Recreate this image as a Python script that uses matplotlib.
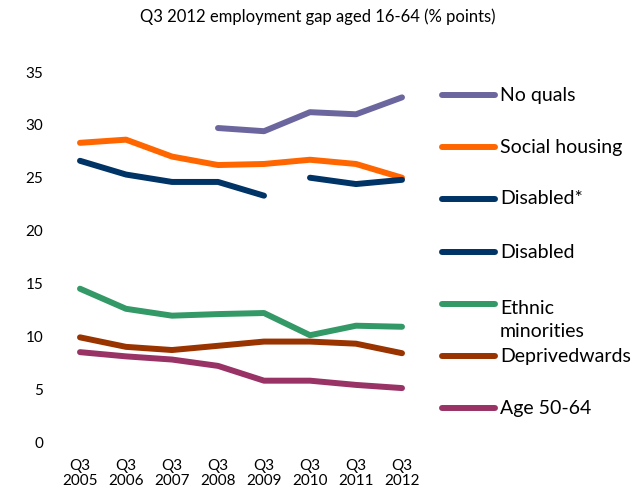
import matplotlib.pyplot as plt
from matplotlib.lines import Line2D
import numpy as np

plt.rcParams['font.family'] = ['Lato', 'DejaVu Sans']

# Data
quarters = ['Q3\n2005', 'Q3\n2006', 'Q3\n2007', 'Q3\n2008',
            'Q3\n2009', 'Q3\n2010', 'Q3\n2011', 'Q3\n2012']
nan = np.nan
no_quals = [nan, nan, nan, 29.7, 29.4, 31.2, 31.0, 32.6]
social_housing = [28.3, 28.6, 27.0, 26.2, 26.3, 26.7, 26.3, 25.0]
disabled_star = [26.6, 25.3, 24.6, 24.6, 23.3, nan, nan, nan]
disabled = [nan, nan, nan, nan, nan, 25.0, 24.4, 24.8]
ethnic = [14.5, 12.6, 11.95, 12.1, 12.2, 10.1, 11.0, 10.9]
deprived = [9.9, 9.0, 8.7, 9.1, 9.5, 9.5, 9.3, 8.4]
age_50_64 = [8.5, 8.1, 7.8, 7.2, 5.8, 5.8, 5.4, 5.1]

series = [
    ('No quals', no_quals, '#6B679E'),
    ('Social housing', social_housing, '#FF6600'),
    ('Disabled*', disabled_star, '#003366'),
    ('Disabled', disabled, '#003366'),
    ('Ethnic\nminorities', ethnic, '#339966'),
    ('Deprivedwards', deprived, '#993300'),
    ('Age 50-64', age_50_64, '#993366'),
]

W, H = 641, 490
fig = plt.figure(figsize=(W / 100, H / 100), dpi=100)
# axes: x from 57 to 425 px, y from 72 (35) to 442 (0)
ax = fig.add_axes([57 / W, 1 - 442 / H, (425 - 57) / W, (442 - 72) / H])

x = np.arange(len(quarters))
for name, vals, col in series:
    ax.plot(x, vals, color=col, lw=4.3, solid_capstyle='round',
            solid_joinstyle='round')

ax.set_xlim(-0.5, len(quarters) - 0.5)
ax.set_ylim(0, 35)
ax.set_yticks(range(0, 36, 5))
ax.set_xticks(x)
ax.set_xticklabels(quarters, fontsize=11, linespacing=1.15)
ax.tick_params(axis='both', length=0, labelsize=11)
ax.tick_params(axis='y', pad=10)
ax.tick_params(axis='x', pad=12)
for s in ax.spines.values():
    s.set_visible(False)

fig.text(318 / W, 1 - 17 / H, 'Q3 2012 employment gap aged 16-64 (% points)',
         ha='center', va='center', fontsize=12)

# legend drawn by hand so the spacing matches
leg_y = [95, 147, 199, 252, 304, 356, 408]
for (name, vals, col), yy in zip(series, leg_y):
    fy = 1 - yy / H
    fig.add_artist(Line2D([442 / W, 495 / W], [fy, fy], color=col, lw=4.3,
                          solid_capstyle='round', transform=fig.transFigure))
    if '\n' in name:
        # baseline of the last line; first line sits level with the swatch
        fig.text(500 / W, 1 - (yy + 33) / H, name, ha='left', va='baseline',
                 fontsize=14, linespacing=1.4)
    else:
        fig.text(500 / W, fy, name, ha='left', va='center', fontsize=14)

fig.savefig('out.png', dpi=100)
